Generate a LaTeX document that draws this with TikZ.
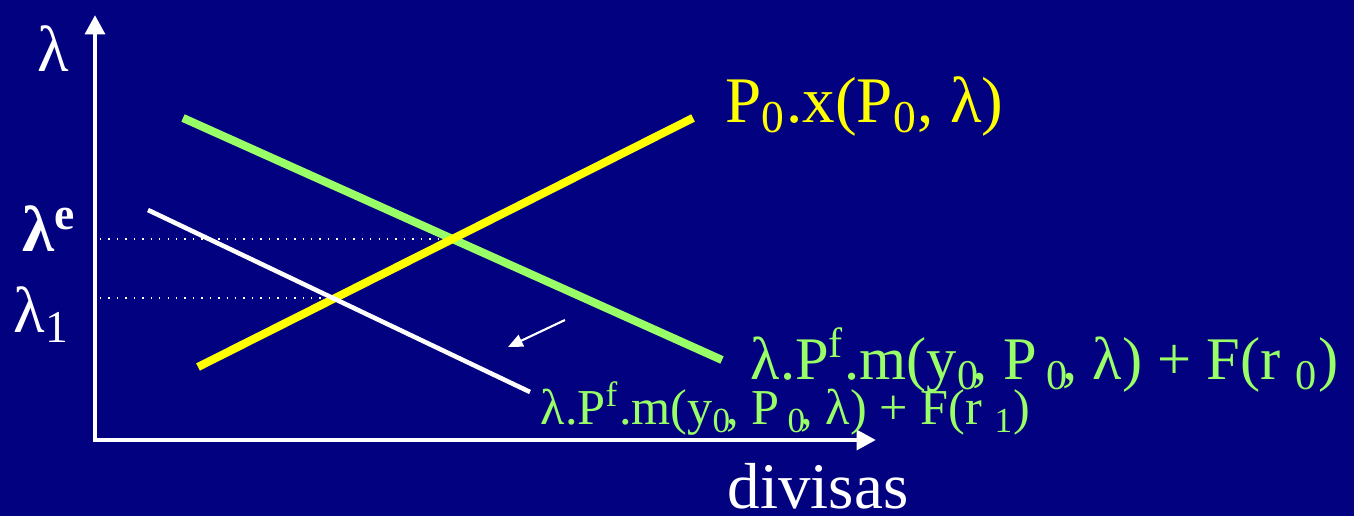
\documentclass[tikz,border=0pt]{standalone}
\usepackage{fontspec}
\setmainfont{Liberation Serif}
\usetikzlibrary{arrows.meta,calc}
\definecolor{fundo}{RGB}{2,2,128}
\definecolor{verde}{RGB}{153,255,102}
\definecolor{amarelo}{RGB}{255,255,0}
\tikzset{
  eixo/.style={white,line width=1.4pt,-{Triangle[length=5.5pt,width=5.5pt]}},
  grande/.style={font=\fontsize{18.5}{22}\selectfont,anchor=base west,inner sep=0pt},
  medio/.style={font=\fontsize{17.2}{20}\selectfont,anchor=base west,inner sep=0pt},
  pequeno/.style={font=\fontsize{14.3}{17}\selectfont,anchor=base west,inner sep=0pt},
}

\begin{document}
\begin{tikzpicture}[x=.01cm,y=-.01cm]
\fill[fundo](0,0) rectangle (1354,516);
\useasboundingbox (0,0) rectangle (1354,516);
\coordinate (o) at (95,440);
\coordinate (ytop) at (95,15);
\coordinate (xtop) at (876,440);
\coordinate (g1) at (183,118);
\coordinate (g2) at (722,360);
\coordinate (a1) at (198,367);
\coordinate (a2) at (693,118);
\coordinate (b1) at (148,210);
\coordinate (b2) at (530,392);
\coordinate (e) at (452,239);
\coordinate (l1) at (334,298);
\coordinate (s1) at (565,320);
\coordinate (s2) at (508,347);
% eixos
\draw[eixo](o)--(ytop);
\draw[eixo]($(o)+(-2,0)$)--(xtop);
\draw[white,dotted,line width=.4pt]($(o |- e)+(5,0)$)--(e);
\draw[white,dotted,line width=.4pt]($(o |- l1)+(5,0)$)--(l1);
% curvas
\draw[verde,line width=2.3pt](g1)--(g2);
\draw[amarelo,line width=2.3pt](a1)--(a2);
\draw[white,line width=1.3pt](b1)--(b2);
\draw[white,line width=.6pt,-{Triangle[length=4.2pt,width=3.6pt]}](s1)--(s2);
% legendas
\node[grande,white](lam) at(37,72){λ};
\node[grande,white](lame) at(22,252){\bfseries λ\textsuperscript{e}};
\node[grande,white](lamu) at(13,333){λ\textsubscript{1}};
\node[grande,white](div) at(727,509){divisas};
\node[grande,amarelo](px) at(725,123){P\textsubscript{0}.x(P\textsubscript{0}, λ)};
\node[medio,verde](m0) at(750,380){λ.P\textsuperscript{f}.m(y\textsubscript{0}\kern-.12em, P\,\textsubscript{0}\kern-.12em, λ) + F(r \textsubscript{0})};
\node[pequeno,verde](m1) at(540,425){λ.P\textsuperscript{f}.m(y\textsubscript{0}\kern-.12em, P\,\textsubscript{0}\kern-.12em, λ) + F(r \textsubscript{1})};
\end{tikzpicture}
\end{document}
